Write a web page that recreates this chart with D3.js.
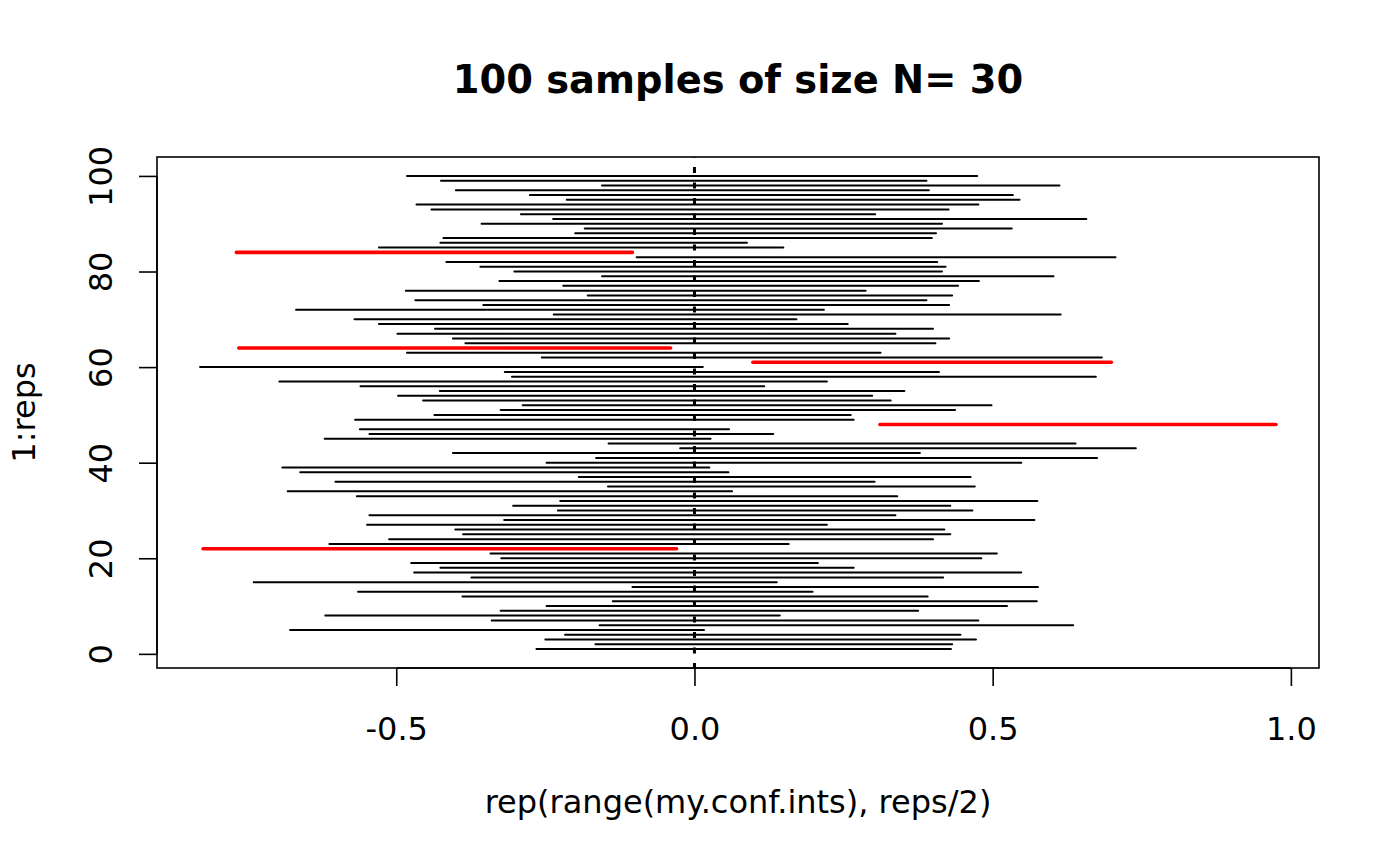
<!DOCTYPE html>
<html>
<head>
<meta charset="utf-8">
<script src="https://cdn.jsdelivr.net/npm/d3@7"></script>
<style>
  body { margin: 0; background: #fff; }
  svg text { font-family: "DejaVu Sans", sans-serif; fill: #000; }
</style>
</head>
<body>
<svg id="chart" width="1400" height="865"></svg>
<script>
// confidence intervals, sample 1 .. 100
const lower = [
  -0.265, -0.166, -0.250, -0.217, -0.678, -0.159, -0.340, -0.619, -0.325, -0.248,
  -0.137, -0.389, -0.564, -0.104, -0.739, -0.374, -0.470, -0.426, -0.475, -0.324,
  -0.342, -0.824, -0.612, -0.512, -0.388, -0.401, -0.549, -0.319, -0.545, -0.229,
  -0.304, -0.225, -0.566, -0.682, -0.145, -0.602, -0.194, -0.661, -0.691, -0.248,
  -0.165, -0.405, -0.024, -0.144, -0.620, -0.545, -0.561,  0.311, -0.569, -0.436,
  -0.325, -0.288, -0.455, -0.497, -0.427, -0.560, -0.696, -0.306, -0.318, -0.829,
   0.098, -0.256, -0.482, -0.764, -0.384, -0.405, -0.498, -0.435, -0.529, -0.570,
  -0.236, -0.668, -0.354, -0.468, -0.179, -0.484, -0.220, -0.327, -0.155, -0.302,
  -0.359, -0.416, -0.097, -0.768, -0.529, -0.426, -0.421, -0.200, -0.184, -0.357,
  -0.237, -0.291, -0.441, -0.466, -0.214, -0.276, -0.400, -0.155, -0.425, -0.482
];
const upper = [
   0.430,  0.432,  0.472,  0.446,  0.016,  0.635,  0.476,  0.143,  0.375,  0.524,
   0.574,  0.391,  0.198,  0.576,  0.138,  0.417,  0.548,  0.267,  0.207,  0.481,
   0.507, -0.030,  0.158,  0.400,  0.429,  0.419,  0.222,  0.570,  0.337,  0.466,
   0.429,  0.575,  0.340,  0.063,  0.470,  0.302,  0.463,  0.057,  0.025,  0.548,
   0.675,  0.378,  0.740,  0.639,  0.027,  0.132,  0.058,  0.975,  0.267,  0.262,
   0.437,  0.498,  0.329,  0.298,  0.352,  0.117,  0.222,  0.673,  0.410,  0.014,
   0.699,  0.683,  0.312, -0.040,  0.404,  0.427,  0.337,  0.400,  0.257,  0.171,
   0.614,  0.217,  0.427,  0.389,  0.432,  0.287,  0.442,  0.477,  0.602,  0.415,
   0.421,  0.407,  0.706, -0.104,  0.149,  0.088,  0.398,  0.405,  0.532,  0.415,
   0.657,  0.303,  0.426,  0.476,  0.545,  0.534,  0.393,  0.612,  0.389,  0.474
];
const trueMean = 0;
const xTicks = [-0.5, 0.0, 0.5, 1.0];
const yTicks = [0, 20, 40, 60, 80, 100];
const reps = lower.length;

const plot = { left: 157, right: 1319, top: 157, bottom: 668 };
const fontSize = 32;
const svg = d3.select("#chart");

// R style axis limits: data range widened by 4%
const pad = (lo, hi) => { const d = (hi - lo) * 0.04; return [lo - d, hi + d]; };
const x = d3.scaleLinear()
    .domain(pad(d3.min(lower), d3.max(upper)))
    .range([plot.left, plot.right]);
const y = d3.scaleLinear()
    .domain(pad(1, reps))
    .range([plot.bottom, plot.top]);

const intervals = lower.map((lo, i) => ({ rep: i + 1, lo, hi: upper[i] }));
const misses = d => d.lo > trueMean || d.hi < trueMean;

svg.append("rect")
    .attr("width", 1400).attr("height", 865).attr("fill", "#fff");

svg.append("g")
  .selectAll("line")
  .data(intervals)
  .join("line")
    .attr("x1", d => x(d.lo))
    .attr("x2", d => x(d.hi))
    .attr("y1", d => y(d.rep))
    .attr("y2", d => y(d.rep))
    .attr("stroke", d => misses(d) ? "#ff0000" : "#000")
    .attr("stroke-width", d => misses(d) ? 3.6 : 2)
    .attr("stroke-linecap", "round");

// dotted line at the true mean
svg.append("line")
    .attr("x1", x(trueMean)).attr("x2", x(trueMean))
    .attr("y1", plot.bottom + 1).attr("y2", plot.top)
    .attr("stroke", "#000")
    .attr("stroke-width", 3)
    .attr("stroke-dasharray", "6 9.5");

svg.append("rect")
    .attr("x", plot.left).attr("y", plot.top)
    .attr("width", plot.right - plot.left)
    .attr("height", plot.bottom - plot.top)
    .attr("fill", "none").attr("stroke", "#000").attr("stroke-width", 1.6);

const xAxis = svg.append("g")
    .attr("transform", `translate(0,${plot.bottom})`)
    .call(d3.axisBottom(x).tickValues(xTicks).tickSizeInner(18).tickSizeOuter(0));
xAxis.select(".domain")
    .attr("d", `M${x(xTicks[0])},0H${x(xTicks[xTicks.length - 1])}`);
xAxis.selectAll("line,.domain").attr("stroke-width", 1.6);
xAxis.selectAll("text")
    .attr("font-size", fontSize).attr("font-family", "DejaVu Sans")
    .attr("y", 72).attr("dy", null)
    .text(d => d.toFixed(1));

const yAxis = svg.append("g")
    .attr("transform", `translate(${plot.left},0)`)
    .call(d3.axisLeft(y).tickValues(yTicks).tickSizeInner(18).tickSizeOuter(0));
yAxis.select(".domain")
    .attr("d", `M0,${y(yTicks[0])}V${y(yTicks[yTicks.length - 1])}`);
yAxis.selectAll("line,.domain").attr("stroke-width", 1.6);
yAxis.selectAll("text")
    .attr("font-size", fontSize).attr("font-family", "DejaVu Sans")
    .attr("x", null).attr("dy", null)
    .attr("text-anchor", "middle")
    .attr("transform", "translate(-45,0) rotate(-90)");

svg.append("text")
    .attr("x", (plot.left + plot.right) / 2).attr("y", 93)
    .attr("text-anchor", "middle")
    .attr("font-size", fontSize * 1.2).attr("font-weight", "bold")
    .text("100 samples of size N= 30");

svg.append("text")
    .attr("x", (plot.left + plot.right) / 2).attr("y", 813)
    .attr("text-anchor", "middle")
    .attr("font-size", fontSize)
    .text("rep(range(my.conf.ints), reps/2)");

svg.append("text")
    .attr("transform", `translate(35,${(plot.top + plot.bottom) / 2}) rotate(-90)`)
    .attr("text-anchor", "middle")
    .attr("font-size", fontSize)
    .text("1:reps");
</script>
</body>
</html>
